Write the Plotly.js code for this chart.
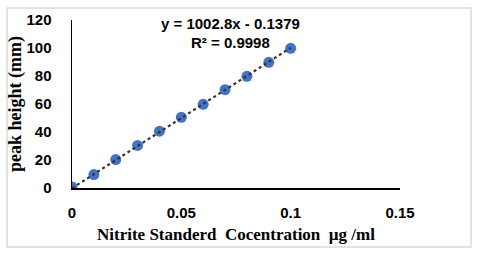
<!DOCTYPE html>
<html>
<head>
<meta charset="utf-8">
<script src="https://cdn.plot.ly/plotly-3.0.1.min.js"></script>
<style>
html,body{margin:0;padding:0;background:#fff;}
#chart{width:480px;height:258px;}
</style>
</head>
<body>
<div id="chart"></div>
<script>
const concentration = [0, 0.01, 0.02, 0.03, 0.04, 0.05, 0.06, 0.07, 0.08, 0.09, 0.1];
const peakHeight = [0.8, 9.6, 20.3, 30.4, 40.6, 50.5, 59.8, 70.2, 79.8, 89.8, 99.8];
const slope = 1002.8;
const intercept = -0.1379;
const trendX = [0, 0.1];
const trendY = trendX.map(x => slope * x + intercept);
const equationText = "y = 1002.8x - 0.1379";
const r2Text = "R² = 0.9998";
const xTickVals = [0, 0.05, 0.1, 0.15];
const xTickText = ["0", "0.05", "0.1", "0.15"];
const yTickVals = [0, 20, 40, 60, 80, 100, 120];

const L = 72, R = 80, T = 20, B = 70, W = 480, H = 258;
const pw = W - L - R, ph = H - T - B;
const px = v => (v - L) / pw;
const py = v => (H - B - v) / ph;

const data = [
  {x: concentration, y: peakHeight, type: 'scatter', mode: 'markers',
   marker: {color: '#4472C4', size: 11}, hoverinfo: 'skip'},
  {x: trendX, y: trendY, type: 'scatter', mode: 'lines',
   line: {color: '#333333', width: 2.2, dash: 'dot'}, hoverinfo: 'skip'}
];

const tickFont = {family: 'Liberation Sans, Arial, sans-serif', size: 15, color: '#000', weight: 'bold'};
const layout = {
  width: W, height: H,
  margin: {l: L, r: R, t: T, b: B, pad: 0},
  paper_bgcolor: '#fff', plot_bgcolor: '#fff',
  showlegend: false,
  xaxis: {
    range: [0, 0.15], tickvals: xTickVals, ticktext: xTickText,
    showgrid: false, zeroline: false, showline: true, linecolor: '#000', linewidth: 1.5,
    ticks: '', ticklabelstandoff: 10, tickfont: tickFont,
    title: {text: 'Nitrite Standerd\u00a0\u00a0Cocentration\u00a0\u00a0µg /ml',
            font: {family: 'Liberation Serif, Times New Roman, serif', size: 17, color: '#000', weight: 'bold'},
            standoff: 8}
  },
  yaxis: {
    range: [0, 120], tickvals: yTickVals,
    showgrid: false, zeroline: false, showline: true, linecolor: '#000', linewidth: 1.5,
    ticks: '', ticklabelstandoff: 16, tickfont: tickFont,
    title: {text: 'peak height (mm)',
            font: {family: 'Liberation Serif, Times New Roman, serif', size: 18, color: '#000', weight: 'bold'},
            standoff: 0}
  },
  annotations: [
    {xref: 'paper', yref: 'paper', x: px(230), y: py(23), text: equationText, showarrow: false,
     xanchor: 'center', yanchor: 'middle',
     font: {family: 'Liberation Sans, Arial, sans-serif', size: 15, color: '#000', weight: 'bold'}},
    {xref: 'paper', yref: 'paper', x: px(230), y: py(43), text: r2Text, showarrow: false,
     xanchor: 'center', yanchor: 'middle',
     font: {family: 'Liberation Sans, Arial, sans-serif', size: 15, color: '#000', weight: 'bold'}}
  ],
  shapes: [
    {type: 'rect', xref: 'paper', yref: 'paper', x0: px(7), x1: px(471), y0: py(247), y1: py(8),
     line: {color: '#d9d9d9', width: 1.5}, fillcolor: 'rgba(0,0,0,0)', layer: 'below'}
  ]
};

Plotly.newPlot('chart', data, layout, {staticPlot: true, displayModeBar: false});
</script>
</body>
</html>
